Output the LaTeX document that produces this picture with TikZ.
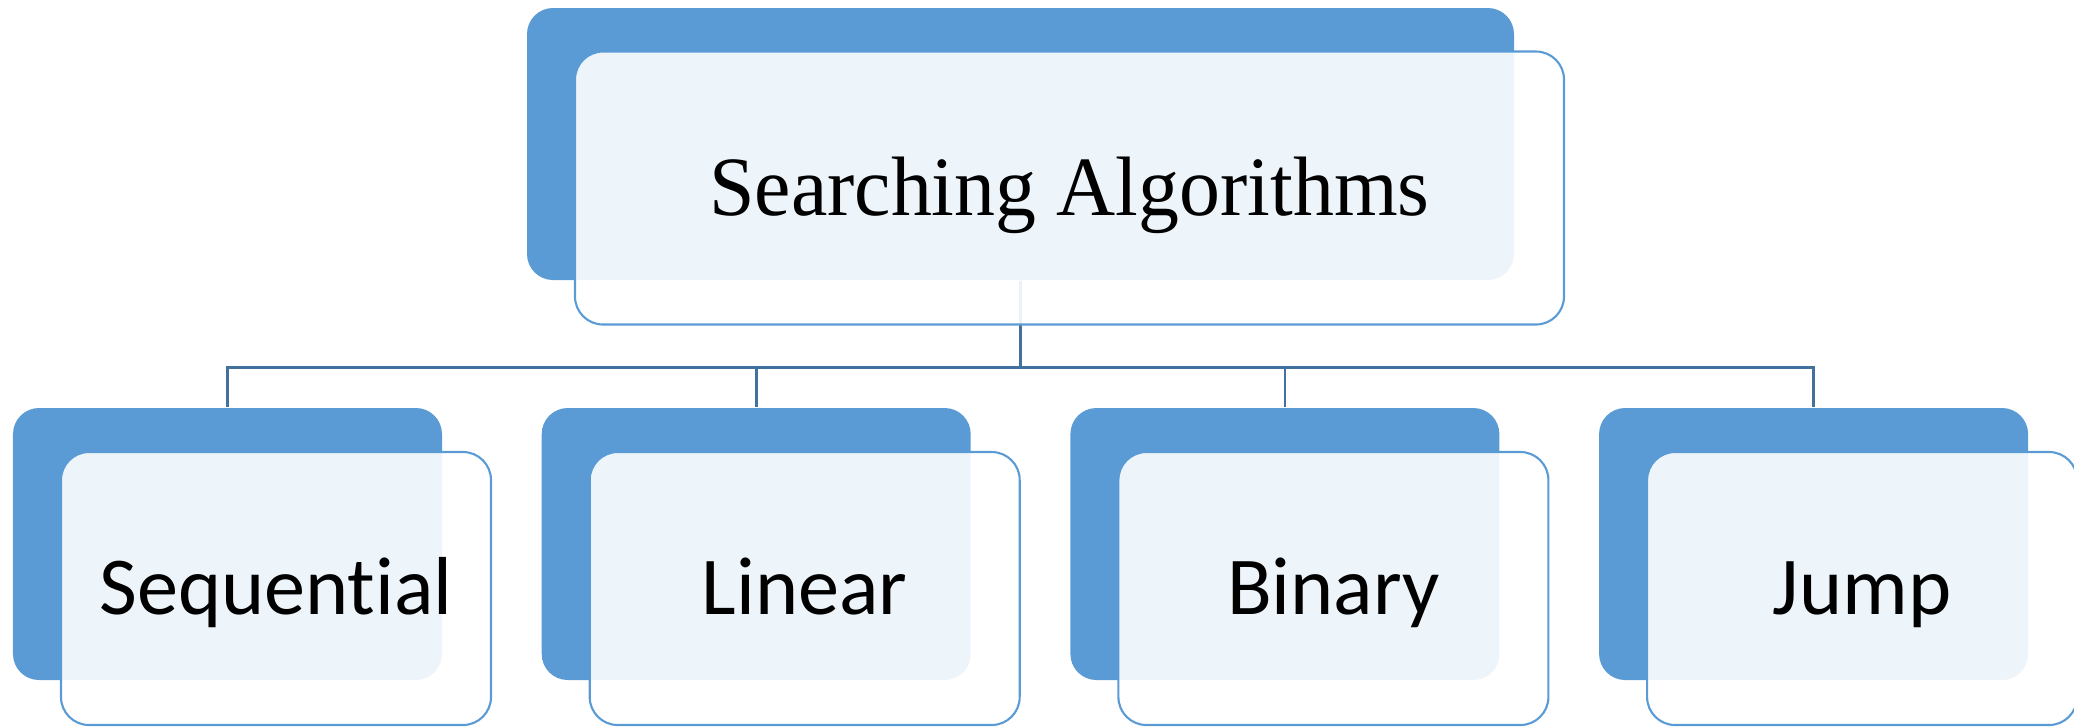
\documentclass[tikz,border=0pt]{standalone}
\usepackage{fontspec}
\setmainfont{Liberation Serif}
\newfontfamily\titlefont[FakeStretch=0.97]{Liberation Serif}
\newfontfamily\labelfont[Ligatures=NoCommon]{Carlito}
\usetikzlibrary{calc}
\definecolor{accent}{HTML}{5B9BD5}
\definecolor{connblue}{HTML}{41719C}
\begin{document}
\begin{tikzpicture}[
  backbox/.style={rectangle, fill=accent, rounded corners=0.26cm, inner sep=0pt, minimum height=2.72cm},
  frontbox/.style={rectangle, fill=white, fill opacity=0.9, text opacity=1, draw=accent, line width=0.6pt, rounded corners=0.28cm, inner sep=0pt, minimum height=2.73cm},
  titletext/.style={font=\titlefont\fontsize{24}{28}\selectfont, text height=15.9pt, text depth=0pt},
  leaftext/.style={font=\labelfont\fontsize{23.4}{28}\selectfont, text height=14.8pt, text depth=0pt},
  connector/.style={draw=connblue, line width=0.8pt}
]
\useasboundingbox (0,0) rectangle (20.74,-7.26);

% back boxes
\node[backbox, minimum width=9.87cm] (top) at (10.205,-1.44) {};
\foreach \i in {1,...,4} {
  \node[backbox, minimum width=4.29cm] (b\i) at ({2.275+5.287*(\i-1)},-5.44) {};
}

% connectors
\coordinate (hub) at ($(top.south)+(0,-0.87)$);
\draw[connector] (top.south) -- (hub);
\foreach \i in {1,...,4} {
  \draw[connector] (hub) -| (b\i.north);
}

% front boxes
\node[frontbox, minimum width=9.89cm, titletext] (topf) at (10.695,-1.88) {Searching Algorithms};
\node[frontbox, minimum width=4.30cm, leaftext] (f1) at (2.76,-5.885) {Sequential};
\node[frontbox, minimum width=4.30cm, leaftext] (f2) at ({2.76+5.287},-5.885) {Linear};
\node[frontbox, minimum width=4.30cm, leaftext] (f3) at ({2.76+2*5.287},-5.885) {Binary};
\node[frontbox, minimum width=4.30cm, leaftext] (f4) at ({2.76+3*5.287},-5.885) {Jump};
\end{tikzpicture}
\end{document}
